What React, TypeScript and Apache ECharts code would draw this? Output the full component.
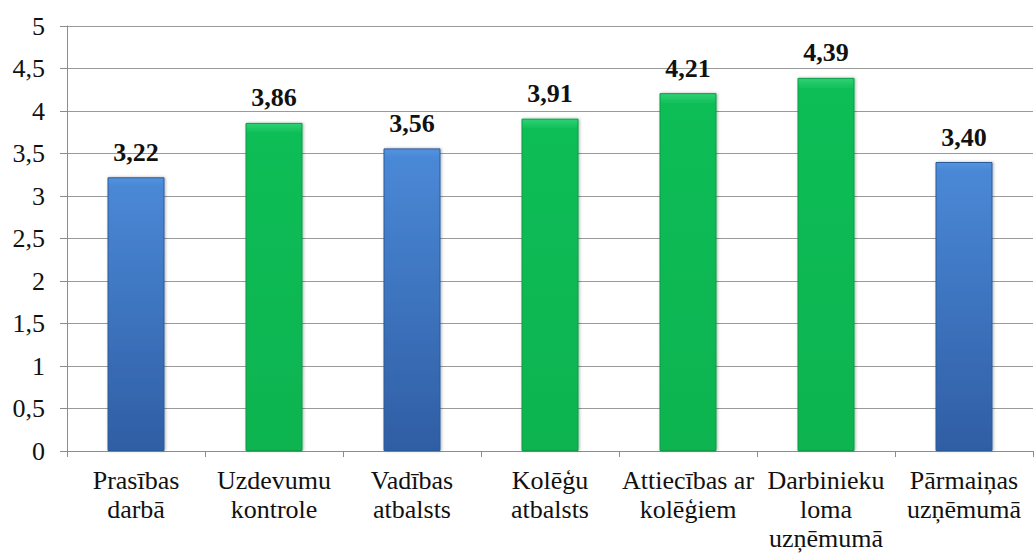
import React, { useEffect, useRef } from "react";
import * as echarts from "echarts";

const categories = [
  "Prasības\ndarbā",
  "Uzdevumu\nkontrole",
  "Vadības\natbalsts",
  "Kolēģu\natbalsts",
  "Attiecības ar\nkolēģiem",
  "Darbinieku\nloma\nuzņēmumā",
  "Pārmaiņas\nuzņēmumā",
];
const values = [3.22, 3.86, 3.56, 3.91, 4.21, 4.39, 3.4];
const barKind = ["blue", "green", "blue", "green", "green", "green", "blue"];

const FONT = "Liberation Serif";

const blueFill = new echarts.graphic.LinearGradient(0, 0, 0, 1, [
  { offset: 0, color: "#5393df" },
  { offset: 0.03, color: "#4a88d6" },
  { offset: 1, color: "#2f5ea4" },
]);
const greenFill = new echarts.graphic.LinearGradient(0, 0, 0, 1, [
  { offset: 0, color: "#2fd273" },
  { offset: 0.03, color: "#0dbd56" },
  { offset: 1, color: "#0bb450" },
]);

export default function App() {
  const ref = useRef<HTMLDivElement>(null);
  useEffect(() => {
    if (!ref.current) return;
    const chart = echarts.init(ref.current, null, { renderer: "svg" });
    chart.setOption({
      animation: false,
      backgroundColor: "#ffffff",
      textStyle: { fontFamily: FONT },
      grid: { left: 67, right: 1, top: 26, bottom: 103 },
      xAxis: {
        type: "category",
        data: categories,
        axisLine: { show: true, lineStyle: { color: "#8c8c8c", width: 1 } },
        axisTick: { show: true, alignWithLabel: false, length: 6, lineStyle: { color: "#8c8c8c" } },
        axisLabel: {
          interval: 0,
          margin: 15,
          color: "#111",
          fontFamily: FONT,
          fontSize: 26,
          lineHeight: 29,
        },
      },
      yAxis: {
        type: "value",
        min: 0,
        max: 5,
        interval: 0.5,
        axisLine: { show: true, lineStyle: { color: "#8c8c8c", width: 1 } },
        axisTick: { show: true, length: 7, lineStyle: { color: "#8c8c8c" } },
        splitLine: { show: true, lineStyle: { color: "#9a9a9a", width: 1 } },
        axisLabel: {
          margin: 22,
          color: "#111",
          fontFamily: FONT,
          fontSize: 26,
          formatter: (v: number) => String(v).replace(".", ","),
        },
      },
      series: [
        {
          type: "bar",
          barWidth: 57,
          data: values.map((v, i) => ({
            value: v,
            itemStyle: {
              color: barKind[i] === "blue" ? blueFill : greenFill,
              borderColor: barKind[i] === "blue" ? "#2c5a98" : "#079c44",
              borderWidth: 1,
              shadowColor: "rgba(0,0,0,0.3)",
              shadowBlur: 3,
              shadowOffsetX: 1,
              shadowOffsetY: 0,
            },
          })),
          label: {
            show: true,
            position: "top",
            distance: 12,
            color: "#111",
            fontFamily: FONT,
            fontWeight: "bold",
            fontSize: 26,
            formatter: (p: any) => p.value.toFixed(2).replace(".", ","),
          },
        },
      ],
    });
    return () => chart.dispose();
  }, []);
  return (
    <div
      ref={ref}
      style={{ position: "fixed", left: 0, top: 0, width: 1034, height: 554 }}
    />
  );
}
